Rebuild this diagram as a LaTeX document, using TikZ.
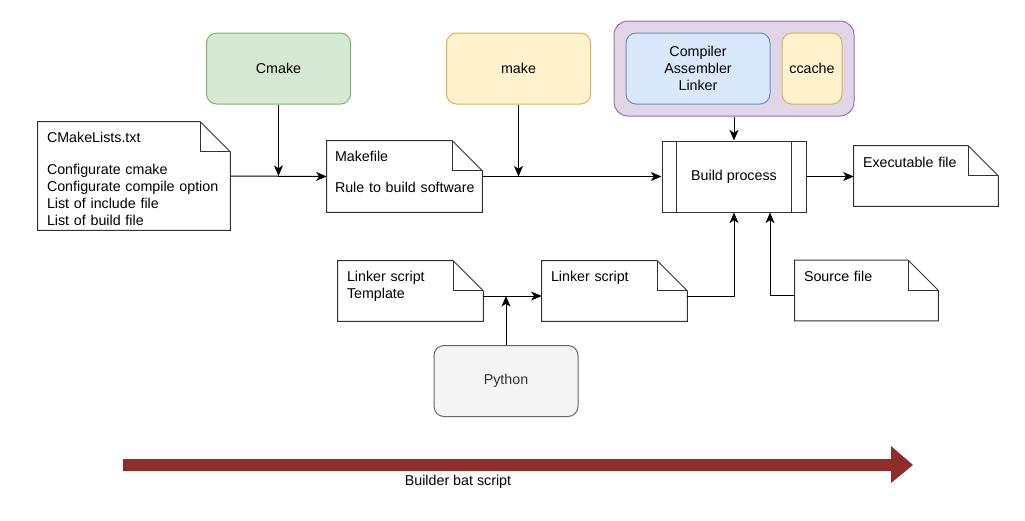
\documentclass[tikz,border=0pt]{standalone}
\usepackage{fontspec}
\setmainfont{Liberation Sans}
\usepackage{xcolor}
\usetikzlibrary{arrows.meta}
\usetikzlibrary{positioning}
\tikzset{>=stealth}
\definecolor{greenfill}{HTML}{D5E8D4}
\definecolor{greenline}{HTML}{82B366}
\definecolor{yellowfill}{HTML}{FFF2CC}
\definecolor{yellowline}{HTML}{D6B656}
\definecolor{bluefill}{HTML}{DAE8FC}
\definecolor{blueline}{HTML}{6C8EBF}
\definecolor{purplefill}{HTML}{E1D5E7}
\definecolor{purpleline}{HTML}{9673A6}
\definecolor{grayfill}{HTML}{F5F5F5}
\definecolor{grayline}{HTML}{666666}
\definecolor{bartone}{HTML}{912C2C}
\tikzset{
  tool/.style={rectangle, rounded corners=7.5pt, line width=0.75pt, align=center,
    minimum width=108pt, minimum height=53.25pt, inner sep=0pt},
  note/.style={rectangle, minimum height=45pt, inner sep=0pt},
  notetext/.style={anchor=base west, inner sep=0pt, align=left, text width=150pt},
  noteline/.style={line width=0.75pt, draw=black!80},
  link/.style={line width=0.75pt, -{Stealth[length=8pt, width=6.75pt, inset=2.25pt]}},
}

\begin{document}
\begin{tikzpicture}[x=0.75pt, y=-0.75pt, font=\fontsize{10.7pt}{12.75pt}\selectfont]
  \useasboundingbox (0,0) rectangle (1025,521);

  % tools on top
  \node[tool, fill=greenfill, draw=greenline] (cmake) at (278.5,68.5) {Cmake};
  \node[tool, fill=yellowfill, draw=yellowline] (make) at (518.5,68.5) {make};
  \node[tool, rounded corners=10.5pt, fill=purplefill, draw=purpleline,
    minimum width=180pt, minimum height=71.25pt] (tools) at (734,68.5) {};
  \node[tool, fill=bluefill, draw=blueline] (compiler) at (698,68.5)
    {Compiler\\Assembler\\Linker};
  \node[tool, fill=yellowfill, draw=yellowline, minimum width=45pt] (ccache) at (812,68.5) {ccache};

  % files
  \node[note, minimum width=144pt, minimum height=81pt] (cmakelists) at (134,176) {};
  \node[note, minimum width=116.25pt, minimum height=53.25pt] (makefile) at (404.5,176.5) {};
  \node[note, minimum width=108pt] (exe) at (926,176) {};
  \node[note, minimum width=108.75pt] (template) at (410.5,291) {};
  \node[note, minimum width=108.75pt] (linker) at (614.5,291) {};
  \node[note, minimum width=107.25pt] (source) at (866.5,290.5) {};
  \foreach \n in {cmakelists,makefile,exe,template,linker,source}
  {
    \draw[noteline] (\n.north west) -- ([xshift=-22.5pt]\n.north east)
      -- ([yshift=-22.5pt]\n.north east) -- (\n.south east) -- (\n.south west) -- cycle;
    \draw[noteline] ([xshift=-22.5pt]\n.north east) |- ([yshift=-22.5pt]\n.north east);
  }
  \node[notetext] (cmakelists-text) at ([shift={(9,21)}]cmakelists.north west)
    {CMakeLists.txt\\[11.25pt]Configurate cmake\\Configurate compile option\\List of include file\\List of build file};
  \node[notetext] (makefile-text) at ([shift={(8,21)}]makefile.north west)
    {Makefile\\[10.5pt]Rule to build software};
  \node[notetext] (exe-text) at ([shift={(9,22)}]exe.north west) {Executable file};
  \node[notetext] (template-text) at ([shift={(9,21)}]template.north west) {Linker script\\Template};
  \node[notetext] (linker-text) at ([shift={(9,21)}]linker.north west) {Linker script};
  \node[notetext] (source-text) at ([shift={(9,21)}]source.north west) {Source file};

  % build step
  \node[rectangle, draw=black!80, line width=0.75pt, minimum width=108pt,
    minimum height=53.25pt] (build) at (734,176.5) {Build process};
  \draw[noteline] ([xshift=11.25pt]build.north west) -- ([xshift=11.25pt]build.south west);
  \draw[noteline] ([xshift=-11.25pt]build.north east) -- ([xshift=-11.25pt]build.south east);

  \node[tool, fill=grayfill, draw=grayline, text=black!80] (python) at (506,381) {Python};

  % connectors
  \coordinate (cmakein) at (cmake.south |- cmakelists.east);
  \coordinate (makein) at (make.south |- makefile.east);
  \coordinate (pythonin) at ([yshift=-3.75pt]python.north |- template.east);
  \draw[link] (cmakelists.east) -- (makefile.west);
  \draw[link] (cmake.south) -- (cmakein);
  \draw[link] (makefile.east) -- (makefile.east -| build.west);
  \draw[link] (make.south) -- (makein);
  \draw[link] (tools.south) -- (build.north);
  \draw[link] (build.east) -- (build.east -| exe.west);
  \draw[link] ([yshift=-3.75pt]template.east) -- ([yshift=-3.75pt]linker.west);
  \draw[link] (python.north) -- (pythonin);
  \draw[link] ([yshift=-3.75pt]linker.east) -| (build.south);
  \draw[link] ([yshift=-3.75pt]source.west) -| ([xshift=27pt]build.south);

  % bat script bar
  \fill[bartone] (123,459) -- (891,459) -- (891,446) -- (913,465) -- (891,483)
    -- (891,471) -- (123,471) -- cycle;
  \node (bat) at (458,482) {Builder bat script};
\end{tikzpicture}
\end{document}
